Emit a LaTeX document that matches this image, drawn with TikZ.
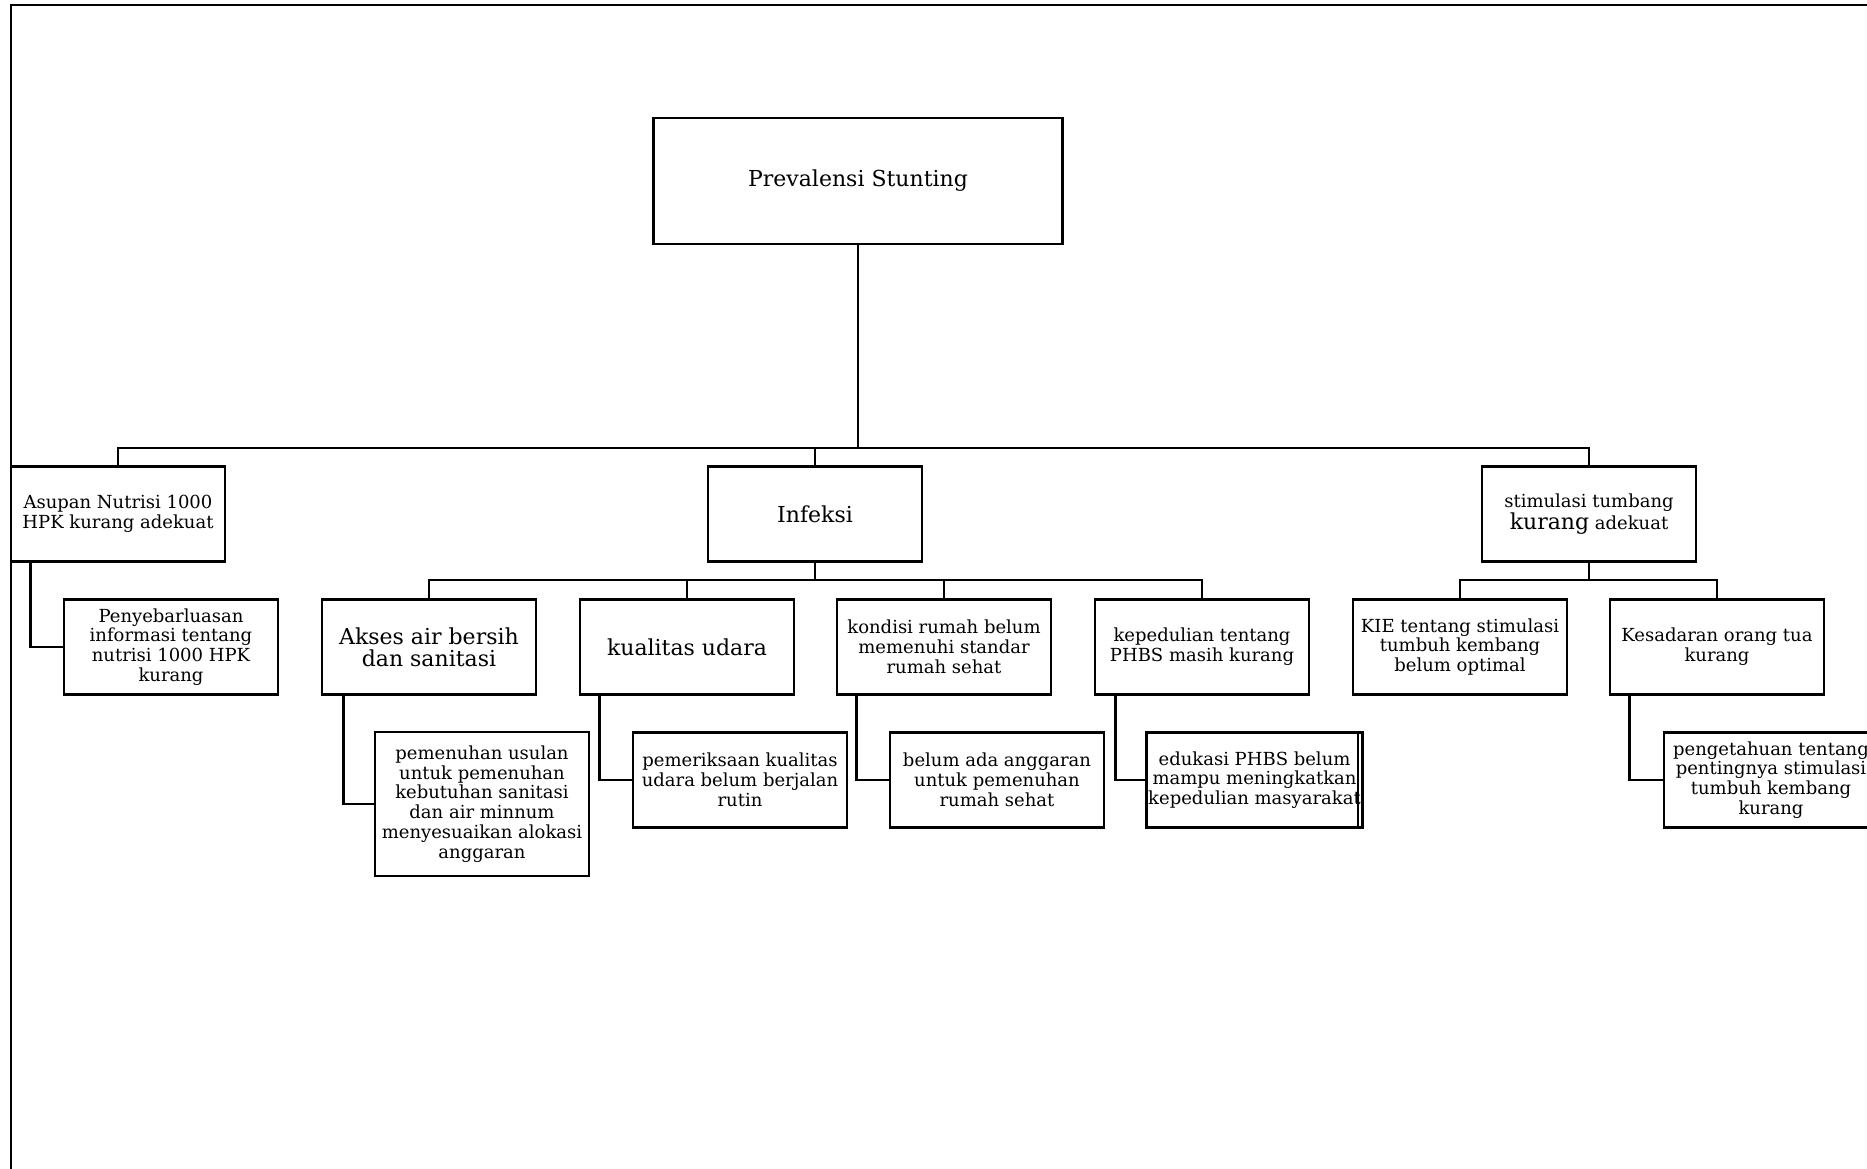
\documentclass[tikz,border=0pt]{standalone}
\usepackage{fontspec}
\setmainfont{DejaVu Serif}

\begin{document}
\begin{tikzpicture}[x=0.5pt,y=-0.5pt,
  box/.style={draw, line width=1.35pt, align=center, inner sep=1pt,
    minimum width=107pt, minimum height=47.5pt,
    font=\fontsize{9}{9.9}\selectfont},
  bigbox/.style={box, font=\fontsize{11}{11}\selectfont},
  tallbox/.style={box, minimum height=72pt},
  link/.style={line width=1.35pt}]

  \useasboundingbox (0,0) rectangle (1867,1168);
  \clip (0,0) rectangle (1867,1168);

% Draw the frame
  \draw[line width=1.2pt] (1880,5) -- (11,5) -- (11,1180);

  % Top box
  \node[bigbox, minimum width=204.5pt, minimum height=63pt] (root) at (858,181) {Prevalensi Stunting};

  % First level
  \node[box] (asupan) at (118,514) {Asupan Nutrisi 1000\\HPK kurang adekuat};
  \node[bigbox] (infeksi) at (815,514) {Infeksi};
  \node[box] (stimulasi) at (1589,514) {stimulasi tumbang\\{\fontsize{11}{11}\selectfont kurang} adekuat};

  % Second level
  \node[box] (informasi) at (171,647) {Penyebarluasan\\informasi tentang\\nutrisi 1000 HPK\\kurang};
  \node[bigbox] (akses) at (429,647) {Akses air bersih\\dan sanitasi};
  \node[bigbox] (udara) at (687,647) {kualitas udara};
  \node[box] (rumah) at (944,647) {kondisi rumah belum\\memenuhi standar\\rumah sehat};
  \node[box] (phbs) at (1202,647) {kepedulian tentang\\PHBS masih kurang};
  \node[box] (kie) at (1460,647) {KIE tentang stimulasi\\tumbuh kembang\\belum optimal};
  \node[box] (sadar) at (1717,647) {Kesadaran orang tua\\kurang};

  % Third level
  \node[tallbox] (usulan) at (482,804) {pemenuhan usulan\\untuk pemenuhan\\kebutuhan sanitasi\\dan air minnum\\menyesuaikan alokasi\\anggaran};
  \node[box] (periksa) at (740,780) {pemeriksaan kualitas\\udara belum berjalan\\rutin};
  \node[box] (anggaran) at (997,780) {belum ada anggaran\\untuk pemenuhan\\rumah sehat};
  \node[box] (edukasi) at (1254.5,780) {edukasi PHBS belum\\mampu meningkatkan\\kepedulian masyarakat};
  \draw[link] ([xshift=-3pt]edukasi.north east) -- ([xshift=-3pt]edukasi.south east);
  \node[box] (tahu) at (1771,780) {pengetahuan tentang\\pentingnya stimulasi\\tumbuh kembang\\kurang};

  % Connectors
  \coordinate (bus) at (858,448);
  \draw[link] (root.south) -- (bus);
  \draw[link] (asupan.north) |- (bus) -| (stimulasi.north);
  \draw[link] (bus -| infeksi.north) -- (infeksi.north);

  \coordinate (ibus) at (815,580);
  \draw[link] (infeksi.south) -- (ibus);
  \draw[link] (akses.north) |- (ibus) -| (phbs.north);
  \draw[link] (ibus -| udara.north) -- (udara.north);
  \draw[link] (ibus -| rumah.north) -- (rumah.north);

  \coordinate (sbus) at (1589,580);
  \draw[link] (stimulasi.south) -- (sbus);
  \draw[link] (kie.north) |- (sbus) -| (sadar.north);

  \draw[link] ([xshift=10.5pt]asupan.south west) |- (informasi.west);
  \draw[link] ([xshift=11.5pt]akses.south west) |- (usulan.west);
  \draw[link] ([xshift=10.5pt]udara.south west) |- (periksa.west);
  \draw[link] ([xshift=10.5pt]rumah.south west) |- (anggaran.west);
  \draw[link] ([xshift=11pt]phbs.south west) |- (edukasi.west);
  \draw[link] ([xshift=10.5pt]sadar.south west) |- (tahu.west);

\end{tikzpicture}
\end{document}
